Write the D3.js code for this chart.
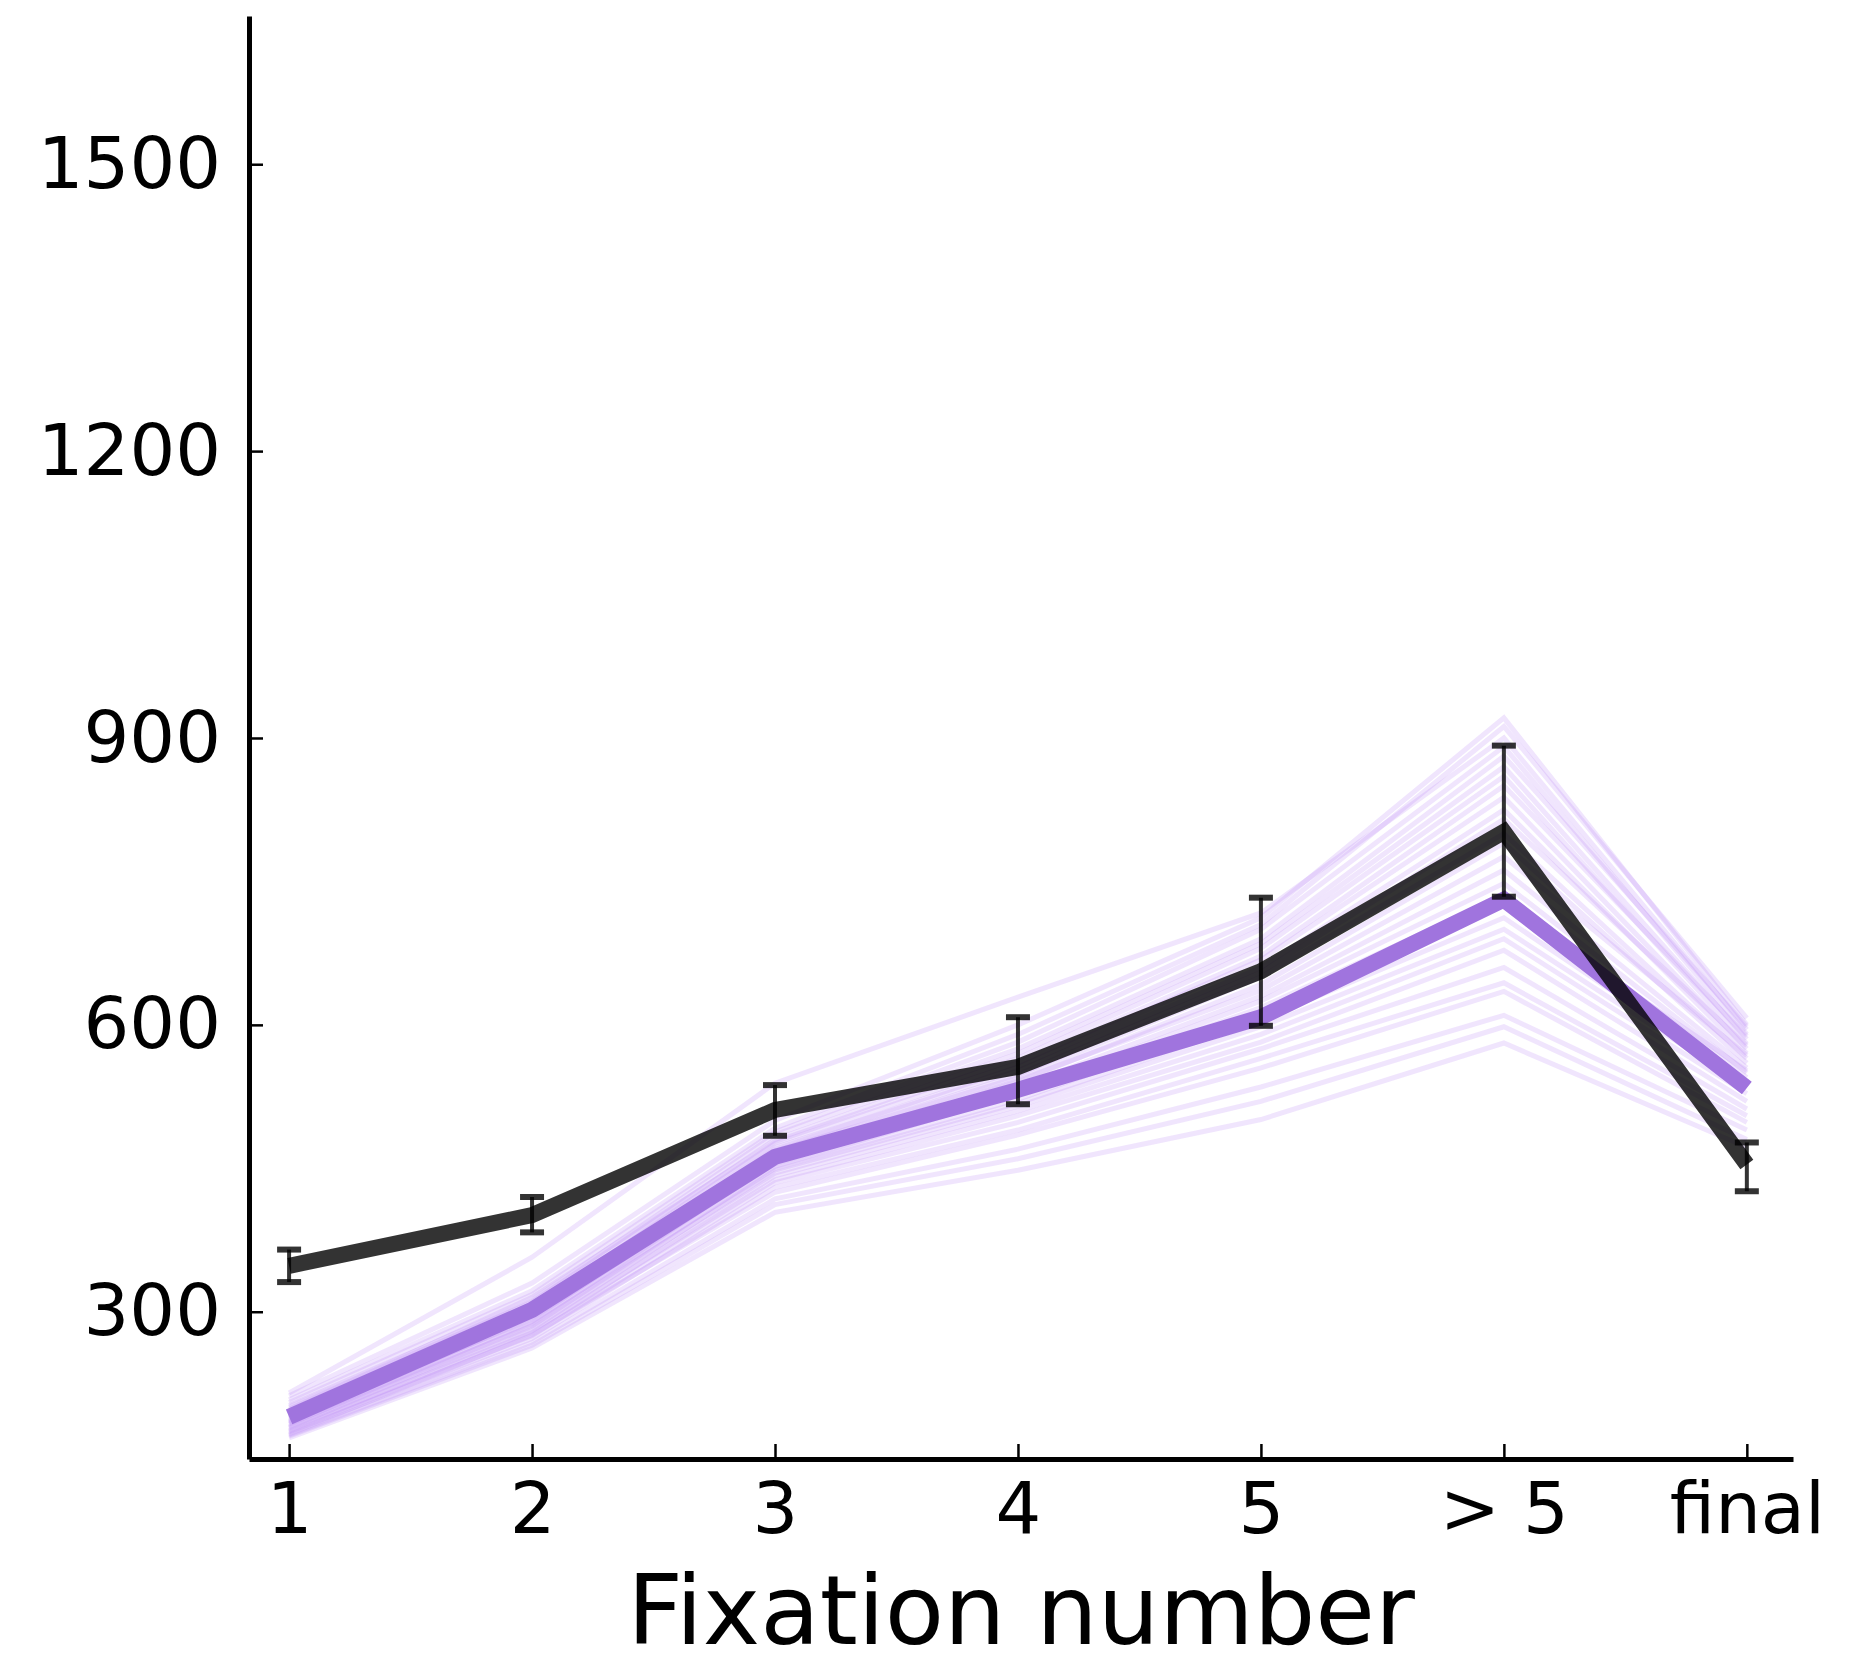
<!DOCTYPE html>
<html>
<head>
  <meta charset="utf-8" />
  <title>Fixation number</title>
  <script src="https://d3js.org/d3.v7.min.js"></script>
  <style>
    body { margin: 0; background: #fff; }
    text { font-family: "DejaVu Sans", sans-serif; fill: #000; }
  </style>
</head>
<body>
  <script>
    // categories on the x axis
    const fixLabels = ["1", "2", "3", "4", "5", "> 5", "final"];

    // thick black line (observed mean) and its error bars
    const obsMean = [348, 401, 511, 556, 656, 802, 454];
    const obsLow  = [331, 383, 484, 517, 599, 734, 426];
    const obsHigh = [365, 420, 537, 608, 733, 892, 477];

    // thick purple line (model mean)
    const modelMean = [190, 302, 462, 532, 608, 731, 534];

    // thin purple lines (individual model runs)
    const modelRuns = [
      [212, 330, 500, 600, 712, 921, 600],
      [208, 322, 492, 590, 705, 912, 607],
      [215, 357, 539, 629, 717, 900, 595],
      [205, 318, 488, 582, 700, 891, 590],
      [202, 312, 485, 575, 690, 881, 598],
      [200, 310, 480, 570, 685, 870, 585],
      [198, 315, 478, 565, 680, 860, 580],
      [196, 305, 476, 560, 672, 850, 588],
      [194, 300, 470, 556, 668, 838, 575],
      [192, 308, 472, 552, 660, 825, 570],
      [190, 296, 466, 548, 655, 815, 578],
      [189, 302, 468, 545, 650, 800, 565],
      [188, 292, 460, 540, 642, 790, 560],
      [186, 298, 462, 542, 636, 776, 568],
      [185, 288, 458, 535, 630, 762, 555],
      [184, 294, 455, 530, 625, 748, 550],
      [183, 285, 452, 528, 618, 735, 545],
      [182, 290, 450, 522, 612, 725, 552],
      [180, 282, 448, 518, 605, 712, 540],
      [179, 286, 445, 515, 598, 700, 535],
      [178, 278, 442, 510, 590, 690, 528],
      [176, 280, 438, 505, 582, 678, 520],
      [175, 275, 435, 498, 575, 660, 512],
      [174, 272, 430, 490, 565, 644, 505],
      [172, 276, 425, 485, 555, 635, 498],
      [171, 268, 418, 470, 535, 610, 490],
      [170, 265, 412, 460, 520, 598, 480],
      [168, 262, 404, 448, 501, 581, 472]
    ];

    const yTicks = [300, 600, 900, 1200, 1500];

    let width = 1859;
    let height = 1667;

    let svg = d3.select("body")
      .append("svg")
      .attr("width", width)
      .attr("height", height);

    // axes area: left spine at x=249, bottom spine at y=1459
    let scaleX = d3.scaleLinear()
      .domain([-0.165, 6.19])
      .range([249, 1793]);
    let scaleY = d3.scaleLinear()
      .domain([146, 1655])
      .range([1459, 16]);

    let lineF = d3.line()
      .x((d, i) => scaleX(i))
      .y(d => scaleY(d));

    // thin runs
    svg.append("g")
      .selectAll("path")
      .data(modelRuns)
      .enter()
      .append("path")
      .attr("d", lineF)
      .style("fill", "none")
      .style("stroke", "rgb(185,135,248)")
      .style("stroke-opacity", 0.22)
      .style("stroke-width", 5);

    // model mean
    svg.append("path")
      .datum(modelMean)
      .attr("d", lineF)
      .style("fill", "none")
      .style("stroke", "#a074de")
      .style("stroke-width", 16);

    // observed mean
    svg.append("path")
      .datum(obsMean)
      .attr("d", lineF)
      .style("fill", "none")
      .style("stroke", "#000")
      .style("stroke-opacity", 0.8)
      .style("stroke-width", 16);

    // error bars
    let errG = svg.append("g")
      .style("stroke", "#000")
      .style("stroke-opacity", 0.8);
    errG.selectAll("line.v")
      .data(obsMean)
      .enter()
      .append("line")
      .attr("class", "v")
      .attr("x1", (d, i) => scaleX(i))
      .attr("x2", (d, i) => scaleX(i))
      .attr("y1", (d, i) => scaleY(obsLow[i]))
      .attr("y2", (d, i) => scaleY(obsHigh[i]))
      .style("stroke-width", 4);
    [obsLow, obsHigh].forEach(arr => {
      errG.append("g")
        .selectAll("line")
        .data(arr)
        .enter()
        .append("line")
        .attr("x1", (d, i) => scaleX(i) - 12)
        .attr("x2", (d, i) => scaleX(i) + 12)
        .attr("y1", d => scaleY(d))
        .attr("y2", d => scaleY(d))
        .style("stroke-width", 6);
    });

    // x axis
    let axisX = d3.axisBottom(scaleX)
      .tickValues(d3.range(fixLabels.length))
      .tickFormat(i => fixLabels[i])
      .tickSizeInner(-15)
      .tickSizeOuter(0)
      .tickPadding(23);
    let gx = svg.append("g")
      .attr("transform", "translate(0,1459)")
      .call(axisX);

    // y axis
    let axisY = d3.axisLeft(scaleY)
      .tickValues(yTicks)
      .tickFormat(d3.format("d"))
      .tickSizeInner(-14)
      .tickSizeOuter(0)
      .tickPadding(28);
    let gy = svg.append("g")
      .attr("transform", "translate(249,0)")
      .call(axisY);

    [gx, gy].forEach(g => {
      g.select(".domain").style("stroke", "#000").style("stroke-width", 5);
      g.selectAll(".tick line").style("stroke", "#000").style("stroke-width", 2.5);
      g.selectAll(".tick text")
        .style("font-family", "'DejaVu Sans', sans-serif")
        .style("font-size", "72px")
        .style("fill", "#000");
    });

    // axis title
    svg.append("text")
      .attr("x", (249 + 1793) / 2)
      .attr("y", 1644)
      .attr("text-anchor", "middle")
      .style("font-size", "97px")
      .text("Fixation number");
  </script>
</body>
</html>
